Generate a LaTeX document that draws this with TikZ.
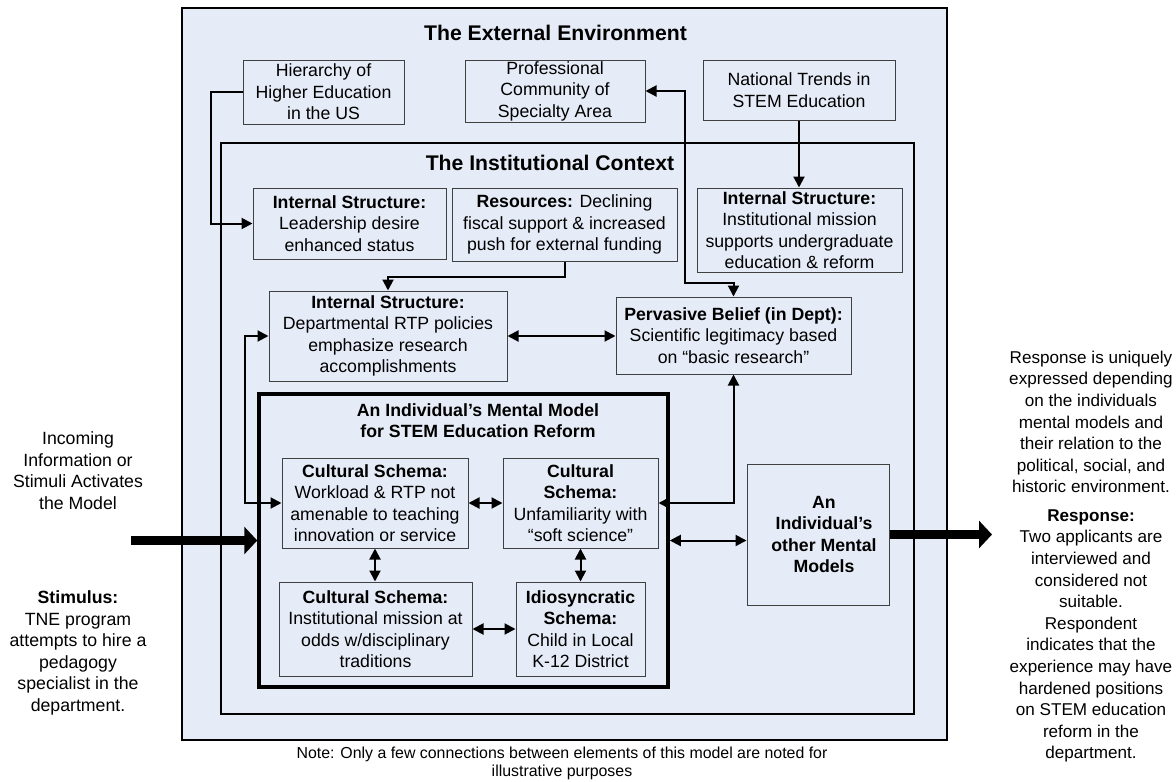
\documentclass[tikz,border=0pt]{standalone}
\usepackage{fontspec}
\setmainfont{Liberation Sans}
\usetikzlibrary{arrows.meta,calc}
\definecolor{bg}{RGB}{230,236,247}
\definecolor{bord}{RGB}{64,64,64}
\newcommand\bxnode[6]{\node[bx,minimum width=#4pt,minimum height=#5pt] (#1) at (#2,#3) {#6};}
\begin{document}
\begin{tikzpicture}[x=1pt,y=-1pt,
  >={Triangle[length=11pt,width=11pt]},
  txt/.style={font=\fontsize{17.7}{21.5}\selectfont, align=center, inner sep=0pt},
  rtxt/.style={font=\fontsize{17.1}{21.6}\selectfont, align=center, inner sep=0pt},
  bx/.style={txt, draw=bord, fill=bg, line width=1pt},
  frame/.style={draw=black, fill=bg, inner sep=0pt},
  conn/.style={line width=2pt, black},
  big/.style={line width=9pt, -{Triangle[length=13pt,width=27pt]}},
  ttl/.style={font=\fontsize{21.2}{25}\selectfont\bfseries, inner sep=0pt},
]
\useasboundingbox (0,0) rectangle (1176,782);
\fill[white] (0,0) rectangle (1176,782);

% frames
\node[frame, line width=1.5pt, minimum width=765pt, minimum height=732pt] (ext) at (564.5,374) {};
\node[frame, line width=1.5pt, minimum width=693pt, minimum height=571pt] (inst) at (567.5,428.5) {};
\node[frame, line width=3.5pt, minimum width=409pt, minimum height=293pt] (mm) at (463.5,540.5) {};

% titles
\node[ttl] (t1) at (555.5,33) {The External Environment};
\node[ttl] (t2) at (550,163) {The Institutional Context};
\node[txt, font=\fontsize{17.7}{21.5}\selectfont\bfseries] (t3) at (478,420.5) {An Individual’s Mental Model\\for STEM Education Reform};

% boxes
\bxnode{hier}{323.5}{92}{161}{64}{Hierarchy of\\Higher Education\\in the US}
\bxnode{prof}{555}{91}{180}{62}{Professional\\Community of\\Specialty Area}
\bxnode{natl}{799}{90}{192}{60}{National Trends in\\STEM Education}
\bxnode{lead}{349.5}{223.5}{193}{71}{\textbf{Internal Structure:}\\Leadership desire\\enhanced status}
\bxnode{res}{564.5}{224.5}{225}{73}{\textbf{Resources:} Declining\\fiscal support \& increased\\push for external funding}
\bxnode{imiss}{799.5}{230}{205}{84}{\textbf{Internal Structure:}\\Institutional mission\\supports undergraduate\\education \& reform}
\bxnode{dept}{388}{336}{238}{90}{\textbf{Internal Structure:}\\Departmental RTP policies\\emphasize research\\accomplishments}
\bxnode{perv}{733.5}{335.5}{235}{77}{\textbf{Pervasive Belief (in Dept):}\\Scientific legitimacy based\\on “basic research”}
\bxnode{work}{375}{503}{186}{90}{\textbf{Cultural Schema:}\\Workload \& RTP not\\amenable to teaching\\innovation or service}
\bxnode{unf}{580.5}{503}{155}{90}{\textbf{Cultural}\\\textbf{Schema:}\\Unfamiliarity with\\“soft science”}
\bxnode{icult}{375.5}{629}{193}{94}{\textbf{Cultural Schema:}\\Institutional mission at\\odds w/disciplinary\\traditions}
\bxnode{idio}{580.5}{629}{129}{94}{\textbf{Idiosyncratic}\\\textbf{Schema:}\\Child in Local\\K-12 District}
\bxnode{other}{818}{534.5}{142}{141}{\hspace*{12pt}\textbf{An}\\\hspace*{12pt}\textbf{Individual’s}\\\hspace*{12pt}\textbf{other Mental}\\\hspace*{12pt}\textbf{Models}}

% free texts
\node[txt] (inc) at (78,470.5) {Incoming\\Information or\\Stimuli Activates\\the Model};
\node[txt] (stim) at (78,653) {\textbf{Stimulus:}\\TNE program\\attempts to hire a\\pedagogy\\specialist in the\\department.};
\node[rtxt] (resp1) at (1091,422) {Response is uniquely\\expressed depending\\on the individuals\\mental models and\\their relation to the\\political, social, and\\historic environment.};
\node[rtxt] (resp2) at (1091,636) {\textbf{Response:}\\Two applicants are\\interviewed and\\considered not\\suitable.\\Respondent\\indicates that the\\experience may have\\hardened positions\\on STEM education\\reform in the\\department.};
\node[font=\fontsize{15.9}{18}\selectfont, align=center, inner sep=0pt] (note) at (562,763) {Note: Only a few connections between elements of this model are noted for\\illustrative purposes};

% connectors
\draw[conn,->] (hier.west) -- ++(-32,0) |- (lead.west);
\draw[conn,->] (res.south) -- ++(0,15) -| (dept.north);
\draw[conn,<->] (prof.east) -- ++(39,0) -- ++(0,192) -| (perv.north);
\draw[conn,->] (natl.south) -- (natl.south |- imiss.north);
\draw[conn,<->] (dept.west) -- ++(-24,0) |- (work.west);
\draw[conn,<->] (dept.east) -- (dept.east -| perv.west);
\draw[conn,<->] (perv.south) |- (unf.east);
\draw[conn,<->] (work.east) -- (unf.west);
\draw[conn,<->] (work.south) -- (work.south |- icult.north);
\draw[conn,<->] (unf.south) -- (unf.south |- idio.north);
\draw[conn,<->] (icult.east) -- (icult.east -| idio.west);
\draw[conn,<->] (mm.east) -- (mm.east -| other.west);

% stimulus and response arrows
\coordinate (stimstart) at (131,540.5);
\draw[big] (stimstart) -- (mm.west);
\coordinate (outend) at (992,534.5);
\draw[big] (other.east) -- (outend);
\end{tikzpicture}
\end{document}
